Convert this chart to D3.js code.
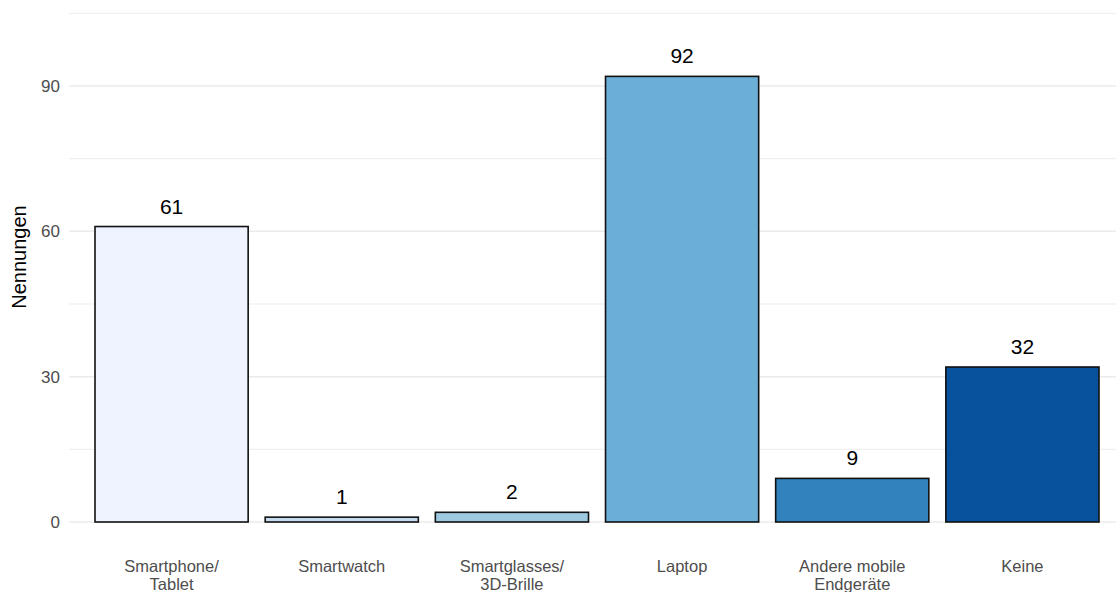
<!DOCTYPE html>
<html>
<head>
<meta charset="utf-8">
<script src="https://cdn.jsdelivr.net/npm/d3@7"></script>
<style>
  html, body { margin: 0; padding: 0; background: #fff; }
  svg { display: block; font-family: "Liberation Sans", Arial, sans-serif; }
</style>
</head>
<body>
<svg id="chart" width="1116" height="592"></svg>
<script>
const categories = [["Smartphone/", "Tablet"], ["Smartwatch"], ["Smartglasses/", "3D-Brille"], ["Laptop"], ["Andere mobile", "Endgeräte"], ["Keine"]];
const values = [61, 1, 2, 92, 9, 32];
const colors = ["#EFF3FF", "#C6DBEF", "#9ECAE1", "#6BAED6", "#3182BD", "#08519C"];
const yTicks = [0, 30, 60, 90];
const yMinorTicks = [15, 45, 75, 105];
const yTitle = "Nennungen";

const keys = categories.map(c => c.join(" "));
const svg = d3.select("#chart");

const x = d3.scaleBand().domain(keys).range([86.5, 1107.5]).paddingInner(0.1).paddingOuter(0.05);
const y = d3.scaleLinear().domain([0, 105]).range([522, 13.4]);

const gridLeft = 69, gridRight = 1116;

// minor gridlines
svg.append("g").selectAll("line").data(yMinorTicks).join("line")
  .attr("x1", gridLeft).attr("x2", gridRight)
  .attr("y1", d => y(d)).attr("y2", d => y(d))
  .attr("stroke", "#ededed").attr("stroke-width", 1);

// major gridlines
svg.append("g").selectAll("line").data(yTicks).join("line")
  .attr("x1", gridLeft).attr("x2", gridRight)
  .attr("y1", d => y(d)).attr("y2", d => y(d))
  .attr("stroke", "#ebebeb").attr("stroke-width", 1.5);

// y axis labels
const yAxis = d3.axisLeft(y).tickValues(yTicks).tickSize(0).tickPadding(0);
const gy = svg.append("g").attr("transform", "translate(60,0)").call(yAxis);
gy.select(".domain").remove();
gy.selectAll("text").attr("fill", "#4d4d4d").style("font-size", "17px")
  .style("font-family", "'Liberation Sans', Arial, sans-serif");

// bars
svg.append("g").selectAll("rect").data(values).join("rect")
  .attr("x", (d, i) => x(keys[i]))
  .attr("width", x.bandwidth())
  .attr("y", d => y(d))
  .attr("height", d => y(0) - y(d))
  .attr("fill", (d, i) => colors[i])
  .attr("stroke", "#111")
  .attr("stroke-width", 1.6);

// value labels
svg.append("g").selectAll("text").data(values).join("text")
  .attr("x", (d, i) => x(keys[i]) + x.bandwidth() / 2)
  .attr("y", d => y(d) - 13)
  .attr("text-anchor", "middle")
  .attr("fill", "#000")
  .style("font-size", "21px")
  .text(d => d);

// x labels
const xl = svg.append("g").selectAll("text").data(categories).join("text")
  .attr("x", (d, i) => x(keys[i]) + x.bandwidth() / 2)
  .attr("y", 572)
  .attr("text-anchor", "middle")
  .attr("fill", "#4d4d4d")
  .style("font-size", "16.5px");
xl.selectAll("tspan").data(d => d).join("tspan")
  .attr("x", function() { return d3.select(this.parentNode).attr("x"); })
  .attr("dy", (d, i) => i === 0 ? 0 : 17.5)
  .text(d => d);

// y title
svg.append("text")
  .attr("transform", "translate(26,257) rotate(-90)")
  .attr("text-anchor", "middle")
  .attr("fill", "#000")
  .style("font-size", "20px")
  .text(yTitle);
</script>
</body>
</html>
